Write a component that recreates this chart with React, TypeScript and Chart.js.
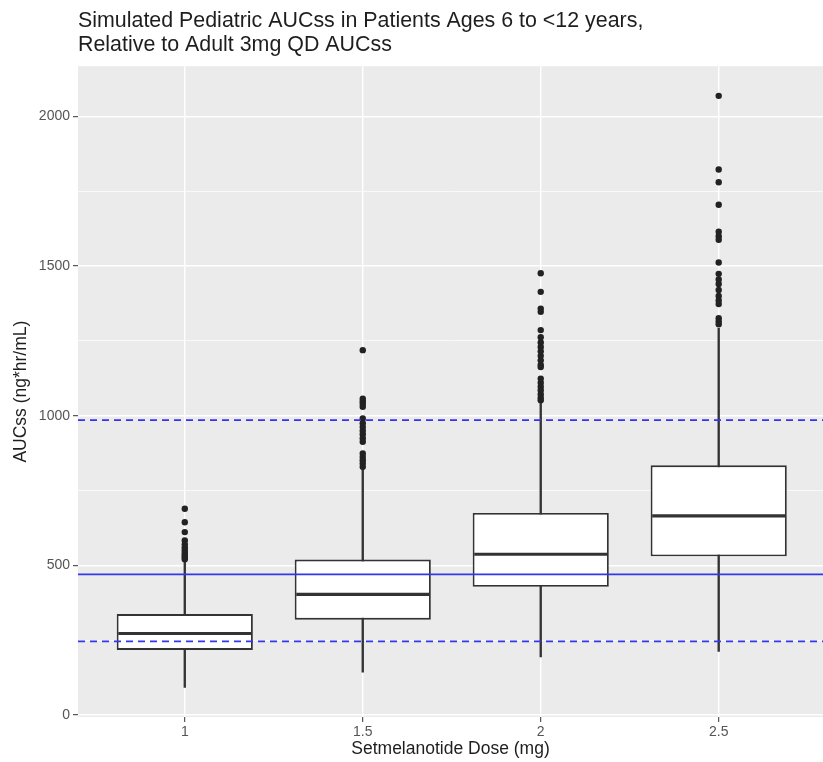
import React, { useEffect, useRef } from "react";
import { Chart, registerables } from "chart.js";
Chart.register(...registerables);

const TITLE_LINES = [
  "Simulated Pediatric AUCss in Patients Ages 6 to <12 years,",
  "Relative to Adult 3mg QD AUCss",
];
const X_TITLE = "Setmelanotide Dose (mg)";
const Y_TITLE = "AUCss (ng*hr/mL)";

const DOSES = [1, 1.5, 2, 2.5];
const DOSE_LABELS = ["1", "1.5", "2", "2.5"];

const LOWER_WHISKER = [92, 143, 194, 212];
const Q1 = [217, 318, 428, 530];
const MEDIAN = [272, 403, 537, 665];
const Q3 = [337, 519, 675, 834];
const UPPER_WHISKER = [510, 823, 1046, 1293];

const OUTLIERS_DOSE_1 = [689, 644, 611, 583, 570, 560, 552, 545, 538, 532, 526, 520];
const OUTLIERS_DOSE_1_5 = [1219, 1057, 1048, 1040, 1030, 991, 975, 962, 950, 938, 925, 913, 874, 862, 851, 840, 829];
const OUTLIERS_DOSE_2 = [1476, 1414, 1358, 1347, 1286, 1262, 1245, 1230, 1215, 1200, 1185, 1170, 1163, 1124, 1110, 1097, 1085, 1072, 1060, 1052];
const OUTLIERS_DOSE_2_5 = [2069, 1823, 1780, 1705, 1615, 1600, 1588, 1512, 1474, 1455, 1440, 1420, 1400, 1385, 1373, 1326, 1315, 1306];
const OUTLIERS = [OUTLIERS_DOSE_1, OUTLIERS_DOSE_1_5, OUTLIERS_DOSE_2, OUTLIERS_DOSE_2_5];

const REF_ADULT_MEDIAN = 470;
const REF_ADULT_LOW = 246;
const REF_ADULT_HIGH = 985;

const Y_MAJOR_TICKS = [0, 500, 1000, 1500, 2000];
const Y_MAJOR_LABELS = ["0", "500", "1000", "1500", "2000"];
const Y_MINOR_TICKS = [250, 750, 1250, 1750];

const X_MIN = 0.7;
const X_MAX = 2.793;
const Y_MIN = -7;
const Y_MAX = 2168;

const FONT = "'Liberation Sans', Arial, Helvetica, sans-serif";
const DARK = "#333333";
const BLUE = "#3535ee";

const panelBg = {
  id: "panelBg",
  beforeDraw(chart: any) {
    const { ctx, chartArea } = chart;
    ctx.save();
    ctx.fillStyle = "#EBEBEB";
    ctx.fillRect(chartArea.left, chartArea.top, chartArea.width, chartArea.height);
    ctx.restore();
  },
};

export default function App() {
  const ref = useRef<HTMLCanvasElement | null>(null);

  useEffect(() => {
    document.body.style.margin = "0";
    const canvas = ref.current;
    if (!canvas) return;

    const outlierPoints: { x: number; y: number }[] = [];
    OUTLIERS.forEach((list, i) => list.forEach((v) => outlierPoints.push({ x: DOSES[i], y: v })));

    const refLine = (y: number, dashed: boolean) => ({
      type: "line" as const,
      data: [
        { x: X_MIN, y },
        { x: X_MAX, y },
      ],
      borderColor: BLUE,
      borderWidth: 1.8,
      borderDash: dashed ? [7, 5] : [],
      pointRadius: 0,
      fill: false,
      order: 1,
    });

    const chart = new Chart(canvas, {
      type: "bar",
      data: {
        datasets: [
          {
            type: "bar",
            data: DOSES.map((d, i) => ({ x: d, y: [LOWER_WHISKER[i], UPPER_WHISKER[i]] })) as any,
            backgroundColor: DARK,
            borderWidth: 0,
            barThickness: 1.7,
            grouped: false,
            order: 6,
          } as any,
          {
            type: "bar",
            data: DOSES.map((d, i) => ({ x: d, y: [Q1[i], Q3[i]] })) as any,
            backgroundColor: "#ffffff",
            borderColor: DARK,
            borderWidth: 1.9,
            borderSkipped: false,
            categoryPercentage: 1,
            barPercentage: 0.765,
            grouped: false,
            order: 5,
          } as any,
          {
            type: "scatter",
            data: DOSES.map((d, i) => ({ x: d, y: MEDIAN[i] })),
            pointStyle: "line",
            pointRadius: 66.5,
            pointBorderWidth: 3.2,
            pointBorderColor: DARK,
            pointBackgroundColor: DARK,
            order: 4,
          } as any,
          {
            type: "scatter",
            data: outlierPoints,
            pointStyle: "circle",
            pointRadius: 3.2,
            pointBorderWidth: 0,
            pointBackgroundColor: "#222222",
            order: 3,
          } as any,
          refLine(REF_ADULT_HIGH, true) as any,
          refLine(REF_ADULT_MEDIAN, false) as any,
          refLine(REF_ADULT_LOW, true) as any,
        ],
      },
      options: {
        responsive: false,
        animation: false,
        devicePixelRatio: 1,
        layout: { padding: 0, autoPadding: false },
        plugins: {
          legend: { display: false },
          tooltip: { enabled: false },
          title: {
            display: true,
            text: TITLE_LINES,
            align: "start",
            fullSize: false,
            color: "#1e1e1e",
            font: { family: FONT, size: 21.4, weight: "normal", lineHeight: 1.08 },
            padding: { top: 10, bottom: 10 },
          } as any,
        },
        scales: {
          x: {
            type: "linear",
            offset: false,
            min: X_MIN,
            max: X_MAX,
            afterBuildTicks: (scale: any) => {
              scale.ticks = DOSES.map((v) => ({ value: v }));
            },
            afterFit: (scale: any) => {
              scale.height = 45;
            },
            ticks: {
              autoSkip: false,
              maxRotation: 0,
              padding: 2,
              color: "#555555",
              font: { family: FONT, size: 14 },
              callback: (value: any) => {
                const i = DOSES.indexOf(Number(value));
                return i >= 0 ? DOSE_LABELS[i] : "";
              },
            },
            grid: {
              offset: false,
              color: "#ffffff",
              lineWidth: 1.4,
              tickColor: DARK,
              tickLength: 5,
              tickWidth: 1,
            },
            border: { display: false },
            title: {
              display: true,
              text: X_TITLE,
              color: "#1e1e1e",
              font: { family: FONT, size: 17.5 },
              padding: { top: 0, bottom: 2 },
            },
          },
          y: {
            type: "linear",
            min: Y_MIN,
            max: Y_MAX,
            afterBuildTicks: (scale: any) => {
              scale.ticks = [...Y_MAJOR_TICKS, ...Y_MINOR_TICKS]
                .sort((a, b) => a - b)
                .map((v) => ({ value: v }));
            },
            afterFit: (scale: any) => {
              scale.width = 78;
            },
            ticks: {
              autoSkip: false,
              padding: 3,
              color: "#555555",
              font: { family: FONT, size: 14 },
              callback: (value: any) => {
                const i = Y_MAJOR_TICKS.indexOf(Number(value));
                return i >= 0 ? Y_MAJOR_LABELS[i] : "";
              },
            },
            grid: {
              color: "#ffffff",
              lineWidth: (ctx: any) =>
                ctx.tick && Y_MAJOR_TICKS.includes(ctx.tick.value) ? 1.4 : 0.7,
              tickColor: (ctx: any) =>
                ctx.tick && Y_MAJOR_TICKS.includes(ctx.tick.value) ? DARK : "rgba(0,0,0,0)",
              tickLength: 5,
              tickWidth: 1,
            },
            border: { display: false },
            title: {
              display: true,
              text: Y_TITLE,
              color: "#1e1e1e",
              font: { family: FONT, size: 17.5 },
              padding: { top: 11, bottom: 0 },
            },
          },
        },
      } as any,
      plugins: [panelBg],
    });

    return () => chart.destroy();
  }, []);

  return (
    <div style={{ width: 823, height: 762, background: "#ffffff" }}>
      <canvas ref={ref} width={823} height={762} style={{ display: "block" }} />
    </div>
  );
}
